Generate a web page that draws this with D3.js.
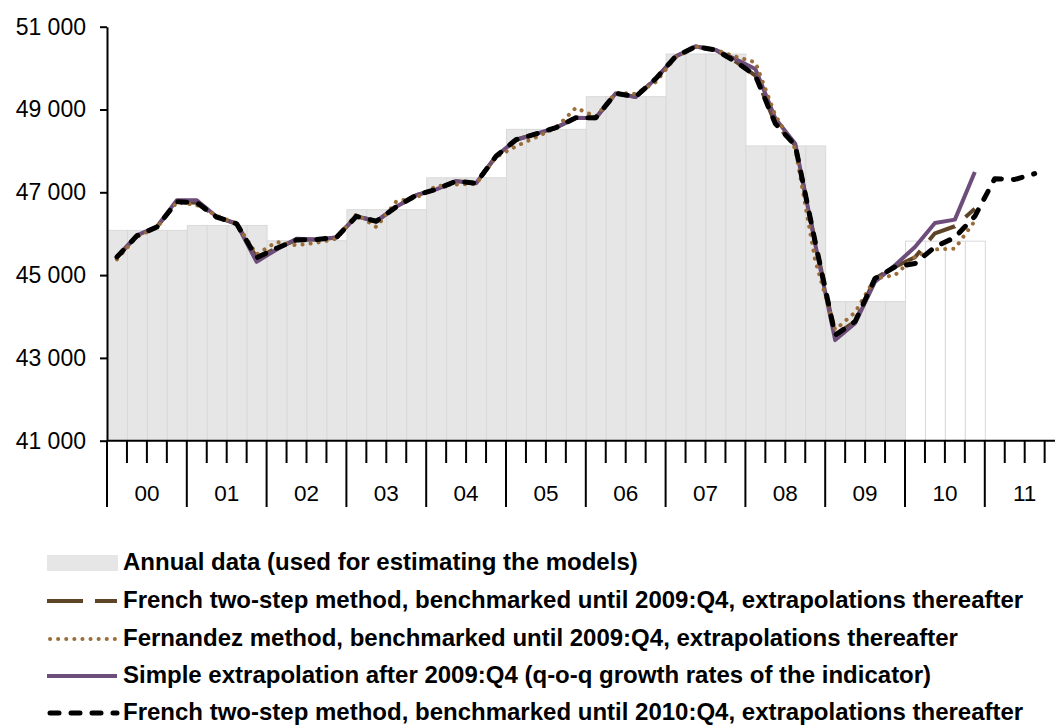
<!DOCTYPE html>
<html>
<head>
<meta charset="utf-8">
<script src="https://cdn.jsdelivr.net/npm/d3@7"></script>
<style>
  body { margin: 0; background: #fff; overflow: hidden; }
  svg { display: block; font-family: "Liberation Sans", Arial, sans-serif; }
</style>
</head>
<body>
<div id="chart"></div>
<script>
// Data: quarterly values 2000:Q1 .. 2011:Q4
var years = ["00", "01", "02", "03", "04", "05", "06", "07", "08", "09", "10", "11"];
var annualData = [46080, 46200, 45830, 46580, 47350, 48520, 49310, 50340, 48120, 44360, 45820];

// French two-step, benchmarked until 2010:Q4
var frenchUntil2010 = [45440, 45950, 46160, 46770, 46750, 46400, 46240, 45420,
    45650, 45850, 45860, 45910, 46420, 46300, 46650, 46930, 47070, 47270, 47220, 47870,
    48270, 48410, 48560, 48800, 48800, 49390, 49310, 49740, 50280, 50520, 50440, 50160,
    49820, 48660, 48130, 45800, 43550, 43880, 44920, 45200, 45280, 45680, 45910, 46420,
    47330, 47310, 47450];

// French two-step, benchmarked until 2009:Q4
var frenchUntil2009 = [45440, 45950, 46160, 46770, 46750, 46400, 46240, 45420,
    45650, 45850, 45860, 45910, 46420, 46300, 46650, 46930, 47070, 47270, 47220, 47870,
    48270, 48410, 48560, 48800, 48800, 49390, 49310, 49740, 50280, 50520, 50440, 50160,
    49820, 48660, 48130, 45800, 43550, 43880, 44920, 45200, 45430, 46010, 46180, 46600];

// Fernandez method, benchmarked until 2009:Q4
var fernandez = [45380, 45930, 46150, 46760, 46690, 46440, 46240, 45500,
    45800, 45720, 45780, 45880, 46470, 46160, 46780, 46870, 47150, 47190, 47200, 47850,
    48110, 48330, 48560, 49040, 48830, 49400, 49380, 49660, 50260, 50520, 50440, 50280,
    50140, 48860, 48050, 45350, 43680, 44100, 44920, 45000, 45440, 45620, 45640, 46310];

// Simple extrapolation after 2009:Q4
var simpleExtrap = [45440, 45960, 46170, 46810, 46810, 46410, 46240, 45320,
    45620, 45880, 45860, 45910, 46420, 46300, 46650, 46930, 47070, 47270, 47220, 47870,
    48270, 48410, 48560, 48800, 48790, 49390, 49300, 49740, 50280, 50520, 50440, 50220,
    49980, 48780, 48170, 45750, 43430, 43840, 44840, 45240, 45680, 46260, 46340, 47490];

var yTicks = [41000, 43000, 45000, 47000, 49000, 51000];

var legendLabels = [
    "Annual data (used for estimating the models)",
    "French two-step method, benchmarked until 2009:Q4, extrapolations thereafter",
    "Fernandez method, benchmarked until 2009:Q4, extrapolations thereafter",
    "Simple extrapolation after 2009:Q4 (q-o-q growth rates of the indicator)",
    "French two-step method, benchmarked until 2010:Q4, extrapolations thereafter"
];

var width = 1055, height = 725;
var plotLeft = 107, plotTop = 26.7, plotBottom = 440.7;
var nQ = years.length * 4;

var svg = d3.select("#chart").append("svg")
    .attr("width", width)
    .attr("height", height);

var x = d3.scaleLinear().domain([0, nQ]).range([plotLeft, plotLeft + nQ * 19.95]);
var y = d3.scaleLinear().domain([41000, 51000]).range([plotBottom, plotTop]);

// Annual bars (4 quarter-wide bars per year)
var barData = [];
annualData.forEach(function(v, yi) {
    for (var q = 0; q < 4; q++) barData.push({ i: yi * 4 + q, v: v, used: yi < 10 });
});

svg.append("g").selectAll("rect")
    .data(barData)
    .enter()
    .append("rect")
    .attr("x", function(d) { return x(d.i) + 0.5; })
    .attr("y", function(d) { return y(d.v); })
    .attr("width", function(d) { return x(d.i + 1) - x(d.i); })
    .attr("height", function(d) { return y(41000) - y(d.v); })
    .attr("fill", function(d) { return d.used ? "#e6e6e6" : "#ffffff"; })
    .attr("stroke", "#d9d9d9")
    .attr("stroke-width", 1);

// Lines
var line = d3.line()
    .defined(function(d) { return d != null; })
    .x(function(d, i) { return x(i + 0.5); })
    .y(function(d) { return y(d); });

var series = [
    { data: frenchUntil2009, color: "#5f4527", width: 4, dash: "30,14", cap: "butt" },
    { data: simpleExtrap, color: "#6d4e7b", width: 4, dash: null, cap: "butt" },
    { data: fernandez, color: "#9b6d3a", width: 4, dash: "0.1,8", cap: "round" },
    { data: frenchUntil2010, color: "#000000", width: 5, dash: "9,12", cap: "round" }
];

series.forEach(function(s) {
    svg.append("path")
        .datum(s.data)
        .attr("d", line)
        .attr("fill", "none")
        .attr("stroke", s.color)
        .attr("stroke-width", s.width)
        .attr("stroke-linejoin", "round")
        .attr("stroke-linecap", s.cap)
        .attr("stroke-dasharray", s.dash);
});

// Y axis
var yAxis = svg.append("g")
    .attr("transform", "translate(" + plotLeft + ",0)")
    .call(d3.axisLeft(y)
        .tickValues(yTicks)
        .tickSize(7)
        .tickSizeOuter(0)
        .tickPadding(14)
        .tickFormat(function(d) { return d3.format(",")(d).replace(",", " "); }));
yAxis.select(".domain").attr("stroke", "#000").attr("stroke-width", 2);
yAxis.selectAll(".tick line").attr("stroke", "#000").attr("stroke-width", 2);
yAxis.selectAll(".tick text")
    .style("font-size", "23px")
    .style("font-family", "Liberation Sans, Arial, sans-serif")
    .attr("fill", "#000");

// X axis
var xg = svg.append("g");
xg.append("line")
    .attr("x1", plotLeft).attr("x2", width)
    .attr("y1", plotBottom).attr("y2", plotBottom)
    .attr("stroke", "#000").attr("stroke-width", 2);

var tickIdx = d3.range(0, nQ + 1).filter(function(i) { return x(i) <= width; });
xg.selectAll(".qtick")
    .data(tickIdx)
    .enter()
    .append("line")
    .attr("x1", function(i) { return x(i); })
    .attr("x2", function(i) { return x(i); })
    .attr("y1", plotBottom)
    .attr("y2", function(i) { return i % 4 === 0 ? 507 : 463; })
    .attr("stroke", "#000")
    .attr("stroke-width", 2);

xg.selectAll(".ylab")
    .data(years)
    .enter()
    .append("text")
    .attr("x", function(d, i) { return x(i * 4 + 2); })
    .attr("y", 501)
    .attr("text-anchor", "middle")
    .style("font-size", "22.5px")
    .text(function(d) { return d; });

// Legend
var legendY = [563, 601, 639, 676, 713];
var lg = svg.append("g");

lg.append("rect")
    .attr("x", 47).attr("y", legendY[0] - 8)
    .attr("width", 71).attr("height", 16)
    .attr("fill", "#e6e6e6");

var legendLines = [series[0], series[2], series[1], series[3]];
legendLines.forEach(function(s, k) {
    lg.append("line")
        .attr("x1", s.cap === "round" ? 50 : 47).attr("x2", 117)
        .attr("y1", legendY[k + 1]).attr("y2", legendY[k + 1])
        .attr("stroke", s.color)
        .attr("stroke-width", s.width)
        .attr("stroke-linecap", s.cap)
        .attr("stroke-dasharray", s.dash === "30,14" ? "36,12" : s.dash);
});

lg.selectAll("text")
    .data(legendLabels)
    .enter()
    .append("text")
    .attr("x", 123)
    .attr("y", function(d, i) { return legendY[i] + 7; })
    .style("font-size", "24px")
    .style("font-weight", "bold")
    .text(function(d) { return d; });
</script>
</body>
</html>
